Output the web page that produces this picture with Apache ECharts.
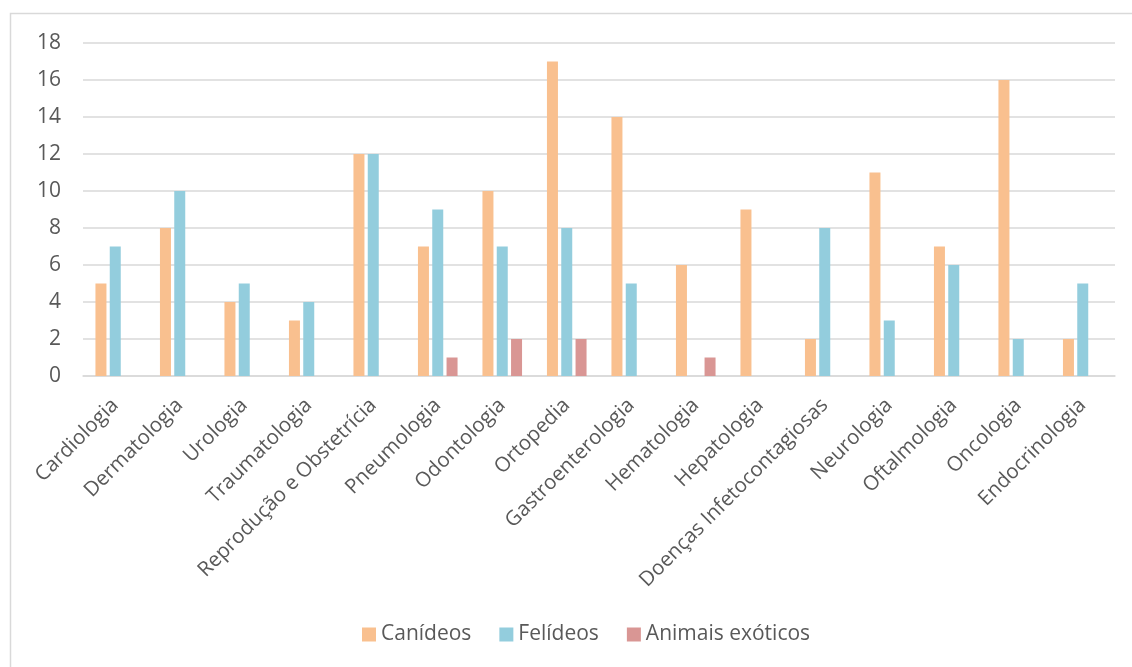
<!DOCTYPE html>
<html>
<head>
<meta charset="utf-8">
<script src="https://cdn.jsdelivr.net/npm/echarts@6/dist/echarts.min.js"></script>
<style>
  html, body { margin: 0; padding: 0; background: #fff; }
  #chart { width: 1132px; height: 667px; }
</style>
</head>
<body>
<div id="chart"></div>
<script>
// Especialidades clínicas
const categories = [
  'Cardiologia', 'Dermatologia', 'Urologia', 'Traumatologia',
  'Reprodução e Obstetrícia', 'Pneumologia', 'Odontologia', 'Ortopedia',
  'Gastroenterologia', 'Hematologia', 'Hepatologia', 'Doenças Infetocontagiosas',
  'Neurologia', 'Oftalmologia', 'Oncologia', 'Endocrinologia'
];
const seriesNames = ['Canídeos', 'Felídeos', 'Animais exóticos'];
const canideos = [5, 8, 4, 3, 12, 7, 10, 17, 14, 6, 9, 2, 11, 7, 16, 2];
const felideos = [7, 10, 5, 4, 12, 9, 7, 8, 5, 0, 0, 8, 3, 6, 2, 5];
const exoticos = [0, 0, 0, 0, 0, 1, 2, 2, 0, 1, 0, 0, 0, 0, 0, 0];
const yTicks = [0, 2, 4, 6, 8, 10, 12, 14, 16, 18];

const colors = ['#F9C08F', '#93CDDD', '#D99694'];
const textColor = '#595959';
const lineColor = '#D9D9D9';
const font = '"Open Sans", "DejaVu Sans", sans-serif';

const chart = echarts.init(document.getElementById('chart'), null, { renderer: 'canvas' });

const mkSeries = (name, data, i) => ({
  name: name,
  type: 'bar',
  data: data,
  barWidth: 11,
  barGap: '30%',
  itemStyle: { color: colors[i] },
  emphasis: { disabled: true }
});

chart.setOption({
  animation: false,
  textStyle: { fontFamily: font },
  graphic: [{
    type: 'rect',
    shape: { x: 10.5, y: 13.5, width: 1140, height: 700 },
    style: { fill: 'none', stroke: lineColor, lineWidth: 1.5 },
    silent: true
  }],
  grid: { left: 83, right: 17, top: 43, bottom: 291, containLabel: false },
  legend: {
    bottom: 17,
    left: 357,
    itemWidth: 14,
    itemHeight: 14,
    itemGap: 28,
    icon: 'rect',
    textStyle: { color: textColor, fontSize: 21, fontFamily: font },
    data: seriesNames
  },
  xAxis: {
    type: 'category',
    data: categories,
    axisLine: { show: true, lineStyle: { color: lineColor, width: 1.5 } },
    axisTick: { show: false },
    axisLabel: {
      interval: 0,
      rotate: 45,
      margin: 26,
      color: textColor,
      fontSize: 20.5,
      fontFamily: font
    }
  },
  yAxis: {
    type: 'value',
    min: yTicks[0],
    max: yTicks[yTicks.length - 1],
    interval: 2,
    axisLine: { show: false },
    axisTick: { show: false },
    splitLine: { lineStyle: { color: lineColor, width: 1.5 } },
    axisLabel: { color: textColor, fontSize: 21, margin: 22, fontFamily: font }
  },
  series: [
    mkSeries(seriesNames[0], canideos, 0),
    mkSeries(seriesNames[1], felideos, 1),
    mkSeries(seriesNames[2], exoticos, 2)
  ]
});
</script>
</body>
</html>
